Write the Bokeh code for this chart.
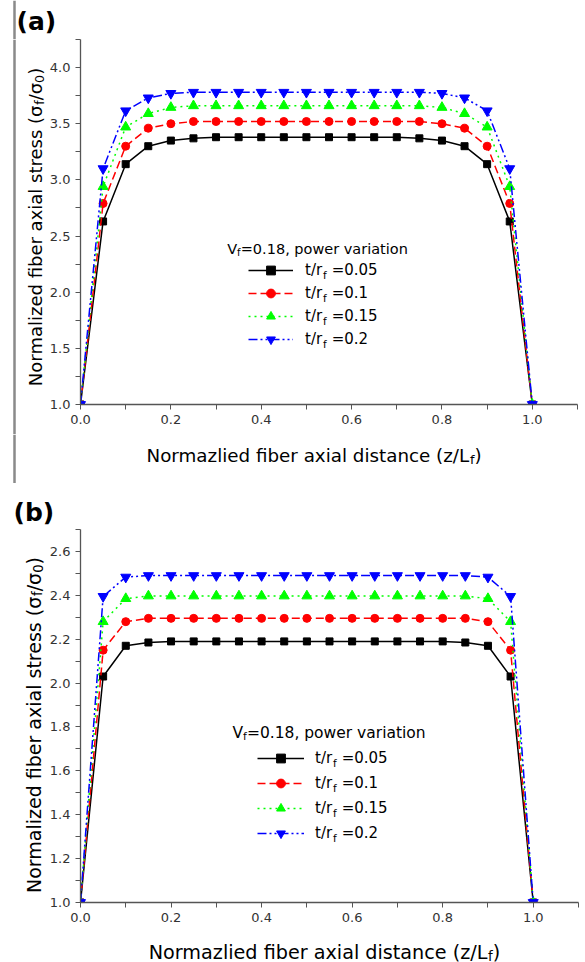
import math
from bokeh.plotting import figure
from bokeh.models import (Range1d, FixedTicker, PrintfTickFormatter, Label,
                          Legend, LegendItem, Span)
from bokeh.layouts import column, row
from bokeh.embed import file_html
from bokeh.resources import INLINE

# ---------------- data ----------------
z = [0.00, 0.05, 0.10, 0.15, 0.20, 0.25, 0.30, 0.35, 0.40, 0.45, 0.50,
     0.55, 0.60, 0.65, 0.70, 0.75, 0.80, 0.85, 0.90, 0.95, 1.00]

a_t005 = [1.00, 2.63, 3.14, 3.30, 3.35, 3.37, 3.38, 3.38, 3.38, 3.38, 3.38,
          3.38, 3.38, 3.38, 3.38, 3.37, 3.35, 3.30, 3.14, 2.63, 1.00]
a_t010 = [1.00, 2.79, 3.30, 3.46, 3.50, 3.52, 3.52, 3.52, 3.52, 3.52, 3.52,
          3.52, 3.52, 3.52, 3.52, 3.52, 3.50, 3.46, 3.30, 2.79, 1.00]
a_t015 = [1.00, 2.94, 3.47, 3.59, 3.645, 3.66, 3.66, 3.66, 3.66, 3.66, 3.66,
          3.66, 3.66, 3.66, 3.66, 3.66, 3.645, 3.59, 3.47, 2.94, 1.00]
a_t020 = [1.00, 3.10, 3.615, 3.73, 3.77, 3.78, 3.78, 3.78, 3.78, 3.78, 3.78,
          3.78, 3.78, 3.78, 3.78, 3.78, 3.77, 3.73, 3.615, 3.10, 1.00]

b_t005 = [1.00, 2.03, 2.17, 2.185, 2.19, 2.19, 2.19, 2.19, 2.19, 2.19, 2.19,
          2.19, 2.19, 2.19, 2.19, 2.19, 2.19, 2.185, 2.17, 2.03, 1.00]
b_t010 = [1.00, 2.15, 2.28, 2.295, 2.295, 2.295, 2.295, 2.295, 2.295, 2.295, 2.295,
          2.295, 2.295, 2.295, 2.295, 2.295, 2.295, 2.295, 2.28, 2.15, 1.00]
b_t015 = [1.00, 2.28, 2.385, 2.397, 2.397, 2.397, 2.397, 2.397, 2.397, 2.397, 2.397,
          2.397, 2.397, 2.397, 2.397, 2.397, 2.397, 2.397, 2.385, 2.28, 1.00]
b_t020 = [1.00, 2.395, 2.483, 2.49, 2.49, 2.49, 2.49, 2.49, 2.49, 2.49, 2.49,
          2.49, 2.49, 2.49, 2.49, 2.49, 2.49, 2.49, 2.483, 2.395, 1.00]

legend_values = ["0.05", "0.1", "0.15", "0.2"]

x_major = [0.0, 0.2, 0.4, 0.6, 0.8, 1.0]
x_minor = [0.1, 0.3, 0.5, 0.7, 0.9, 1.1]
ya_major = [1.0, 1.5, 2.0, 2.5, 3.0, 3.5, 4.0]
ya_minor = [1.25, 1.75, 2.25, 2.75, 3.25, 3.75, 4.25]
yb_major = [1.0, 1.2, 1.4, 1.6, 1.8, 2.0, 2.2, 2.4, 2.6]
yb_minor = [1.1, 1.3, 1.5, 1.7, 1.9, 2.1, 2.3, 2.5, 2.7]

# ---------------- styling ----------------
FONT = "DejaVu Sans"
STYLES = [
    dict(color="#000000", dash="solid", marker="square", size=7),
    dict(color="#ff0000", dash="8 4", marker="circle", size=8),
    dict(color="#00ff00", dash="2 4", marker="triangle", size=10),
    dict(color="#0000ff", dash="9 3 2 3 2 3", marker="inverted_triangle", size=10),
]

W = {" ": .318, "(": .390, ")": .390, ",": .318, ".": .318, "/": .337, "=": .838,
     "L": .557, "N": .748, "V": .684, "a": .613, "b": .635, "c": .550, "d": .635,
     "e": .615, "f": .352, "i": .278, "l": .278, "m": .974, "n": .634, "o": .612,
     "p": .635, "r": .411, "s": .521, "t": .392, "v": .592, "w": .818, "x": .592,
     "z": .525, "σ": .634}


def tw(text, size):
    return sum(W.get(c, .636) for c in text) * size


def label(text, x, y, size, units="data", bold=False, angle=0.0,
          align="left", baseline="alphabetic"):
    return Label(x=x, y=y, x_units=units, y_units=units,
                 text=text, text_font=FONT, text_font_size=f"{size}px",
                 text_font_style="bold" if bold else "normal",
                 angle=angle, text_align=align, text_baseline=baseline,
                 text_color="black")


def strip(w, h, rule=None):
    """A text-only strip whose frame covers its whole canvas (1 unit = 1 px)."""
    s = figure(width=w, height=h, output_backend="svg", toolbar_location=None,
               x_range=Range1d(0, w), y_range=Range1d(0, h),
               x_axis_type=None, y_axis_type=None,
               min_border_left=0, min_border_right=0,
               min_border_top=0, min_border_bottom=0)
    s.frame_align = False
    s.outline_line_color = None
    s.xgrid.visible = False
    s.ygrid.visible = False
    s.background_fill_color = "white"
    s.border_fill_color = "white"
    if rule is not None:
        s.add_layout(Span(location=rule, dimension="height",
                          line_color="#8a8a8a", line_width=2.5))
    return s


def main_fig(w, h, left, right, bottom, ymax, ymaj, ymin, series, conf):
    p = figure(width=w, height=h, output_backend="svg", toolbar_location=None,
               x_range=Range1d(0, 1.1), y_range=Range1d(1.0, ymax),
               min_border_left=left, min_border_right=right,
               min_border_top=0, min_border_bottom=bottom)
    p.frame_align = False
    p.outline_line_color = None
    p.xgrid.visible = False
    p.ygrid.visible = False
    p.xaxis.ticker = FixedTicker(ticks=x_major, minor_ticks=x_minor)
    p.yaxis.ticker = FixedTicker(ticks=ymaj, minor_ticks=ymin)
    for ax in (p.xaxis[0], p.yaxis[0]):
        ax.axis_line_color = "#555555"
        ax.axis_line_width = 1.3
        ax.major_tick_line_color = "#555555"
        ax.minor_tick_line_color = "#555555"
        ax.major_tick_out = 5
        ax.major_tick_in = 0
        ax.minor_tick_out = 5
        ax.minor_tick_in = 0
        ax.major_label_text_font = FONT
        ax.major_label_text_font_size = "13px"
        ax.major_label_text_color = "#333333"
        ax.major_label_standoff = 5
        ax.formatter = PrintfTickFormatter(format="%.1f")

    # frame-relative coordinates: fl = frame left (page x), fb = frame bottom (local y)
    fl, fb = conf["fl"], conf["fb"]
    items = []
    for ys, st, val in zip(series, STYLES, legend_values):
        rl = p.line(z, ys, line_color=st["color"], line_width=1.5, line_dash=st["dash"])
        rs = p.scatter(z, ys, marker=st["marker"], size=st["size"],
                       fill_color=st["color"], line_color=st["color"])
        items.append(LegendItem(label="t/r\u00a0\u00a0=" + val, renderers=[rl, rs]))
    lg = Legend(items=items, location=(conf["lx"] - fl, fb - conf["lbottom"]),
                glyph_width=conf["gw"], glyph_height=22, label_height=22,
                label_standoff=conf["ls"], spacing=conf["sp"], padding=0, margin=0,
                border_line_color=None, background_fill_alpha=0,
                label_text_font=FONT, label_text_font_size="15px",
                label_text_color="black")
    p.add_layout(lg)
    label_x = conf["lx"] + conf["gw"] + conf["ls"]
    for r in conf["rows"]:
        p.add_layout(label("f", label_x + tw("t/r", 15) + 0.3 - fl, fb - (r + 4.5),
                           10.5, units="screen"))
    ts = conf["tsize"]
    tx, tb = conf["tx"], conf["tbase"]
    p.add_layout(label("V", tx - fl, fb - tb, ts, units="screen"))
    fx = tx + tw("V", ts)
    p.add_layout(label("f", fx - fl, fb - (tb + 3.5), ts * 0.7, units="screen"))
    p.add_layout(label("=0.18, power variation", fx + tw("f", ts * 0.7) - fl, fb - tb,
                       ts, units="screen"))
    return p


def x_title(s, h, center, base, size):
    main = "Normazlied fiber axial distance (z/L"
    sub = size * 0.7
    total = tw(main, size) + tw("f", sub) + tw(")", size)
    x0 = center - total / 2
    s.add_layout(label(main, x0, h - base, size))
    x1 = x0 + tw(main, size)
    s.add_layout(label("f", x1, h - base - 4, sub))
    s.add_layout(label(")", x1 + tw("f", sub), h - base, size))


def y_title(s, h, center, base_x, size):
    sub = size * 0.7
    pieces = [("Normalized fiber axial stress (σ", size, 0), ("f", sub, 4),
              ("/σ", size, 0), ("0", sub, 4), (")", size, 0)]
    total = sum(tw(t, sz) for t, sz, _ in pieces)
    y = h - center - total / 2  # data y (up) of bottom start
    for t, sz, off in pieces:
        s.add_layout(label(t, base_x + off, y, sz, angle=math.pi / 2))
        y += tw(t, sz)


LEFT_W = 46

# ================= panel (a) : page y 0 .. 483 =================
A_TOP_H, A_MAIN_H, A_BOT_H = 39, 395, 49
a_top = strip(585, A_TOP_H, rule=14)
a_top.add_layout(label("(a)", 16, A_TOP_H - 21, 25, bold=True, baseline="middle"))

a_left = strip(LEFT_W, A_MAIN_H, rule=14)
y_title(a_left, A_MAIN_H, 226.5 - A_TOP_H, 35, 18)

conf_a = dict(fl=80, fb=404 - A_TOP_H,
              lx=248, lbottom=350 - A_TOP_H, gw=45, ls=12, sp=1,
              rows=[270 - A_TOP_H, 293 - A_TOP_H, 316 - A_TOP_H, 339 - A_TOP_H],
              tsize=14.5, tx=226.7, tbase=248 - A_TOP_H)
a_main = main_fig(585 - LEFT_W, A_MAIN_H, 80 - LEFT_W, 8, A_MAIN_H - (404 - A_TOP_H),
                  4.25, ya_major, ya_minor, [a_t005, a_t010, a_t015, a_t020], conf_a)

a_bot = strip(585, A_BOT_H, rule=14)
x_title(a_bot, A_BOT_H, 313.5, 455 - (A_TOP_H + A_MAIN_H), 18.3)

# ================= panel (b) : page y 483 .. 962 =================
OFF = 483
B_TOP_H, B_MAIN_H, B_BOT_H = 46, 403, 30
b_top = strip(585, B_TOP_H)
b_top.add_layout(label("(b)", 13, B_TOP_H - (512 - OFF), 25, bold=True, baseline="middle"))

b_left = strip(LEFT_W, B_MAIN_H)
y_title(b_left, B_MAIN_H, 724.5 - OFF - B_TOP_H, 33, 19)

bo = OFF + B_TOP_H
conf_b = dict(fl=76, fb=902 - bo,
              lx=253, lbottom=844.3 - bo, gw=47, ls=11, sp=3,
              rows=[758.3 - bo, 783.3 - bo, 808.3 - bo, 833.3 - bo],
              tsize=15.5, tx=228, tbase=732.4 - bo)
b_main = main_fig(585 - LEFT_W, B_MAIN_H, 76 - LEFT_W, 7, B_MAIN_H - (902 - bo),
                  2.7, yb_major, yb_minor, [b_t005, b_t010, b_t015, b_t020], conf_b)

b_bot = strip(585, B_BOT_H)
x_title(b_bot, B_BOT_H, 324, 951.5 - (bo + B_MAIN_H), 19.2)

layout = column(a_top, row(a_left, a_main, spacing=0), a_bot,
                b_top, row(b_left, b_main, spacing=0), b_bot, spacing=0)
open("out.html", "w").write(file_html(layout, INLINE))
